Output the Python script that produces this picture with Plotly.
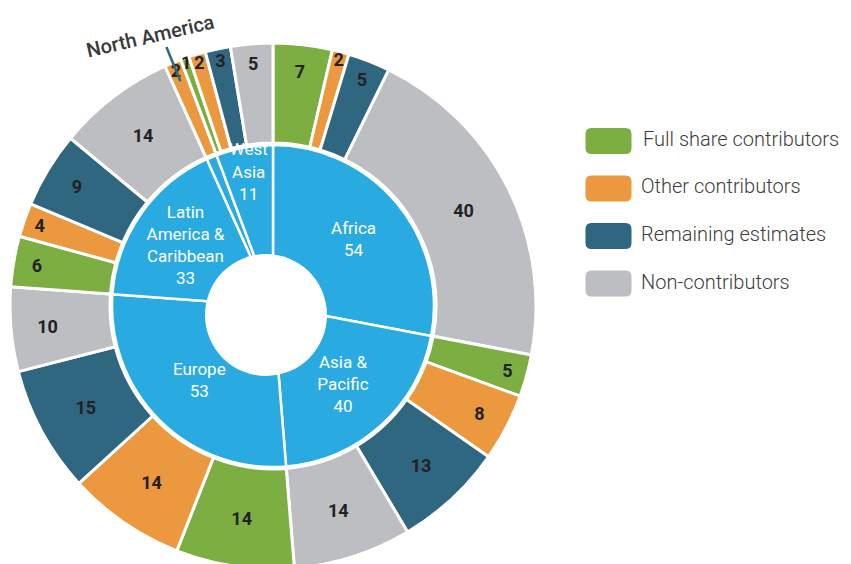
import math
import plotly.graph_objects as go

# ---------------- data ----------------
regions = ["Africa", "Asia & Pacific", "Europe", "Latin America & Caribbean", "North America", "West Asia"]
region_text = ["Africa", "Asia &<br>Pacific", "Europe", "Latin<br>America &<br>Caribbean", "", "West<br>Asia"]
region_totals = [54, 40, 53, 33, 2, 11]

categories = ["Full share contributors", "Other contributors", "Remaining estimates", "Non-contributors"]
cat_colors = ["#7CAE42", "#EB983E", "#2F6680", "#BDBEC2"]
full_share = [7, 5, 14, 6, 0, 1]
other_contrib = [2, 8, 14, 4, 2, 2]
remaining = [5, 13, 15, 9, 0, 3]
non_contrib = [40, 14, 10, 14, 0, 5]

callout_region = "North America"

# ---------------- layout geometry (window pixel coordinates) ----------------
W, H = 851, 564
OFF = 8  # page body margin
CX, CY = 273, 306
R_OUT = 263
R_IN = 161
HOLE_CX, HOLE_CY, HOLE_R = 266, 315, 61
BLUE = "#29ABE2"

def px2paper(x, y):
    return (x - OFF) / W, 1 - (y - OFF) / H

def domain(r):
    x0, y0 = px2paper(CX - r, CY + r)
    x1, y1 = px2paper(CX + r, CY - r)
    return dict(x=[max(0, x0), min(1, x1)], y=[max(0, y0), min(1, y1)])

# outer ring slices
series = [full_share, other_contrib, remaining, non_contrib]
o_labels, o_values, o_colors, o_text = [], [], [], []
for i, reg in enumerate(regions):
    for j, cat in enumerate(categories):
        v = series[j][i]
        if v > 0:
            o_labels.append(f"{reg} – {cat}")
            o_values.append(v)
            o_colors.append(cat_colors[j])
            o_text.append(str(v))

inner_text = [f"{t}<br>{v}" if t else "" for t, v in zip(region_text, region_totals)]

fig = go.Figure()
fig.add_trace(go.Pie(
    labels=o_labels, values=o_values, text=o_text, textinfo="text",
    sort=False, direction="clockwise", rotation=0,
    hole=(R_IN + 2) / R_OUT,
    marker=dict(colors=o_colors, line=dict(color="white", width=3)),
    textposition="inside", insidetextorientation="horizontal",
    textfont=dict(family="Roboto", size=18, color="#222222", weight="bold"),
    domain=domain(R_OUT), showlegend=False, hoverinfo="label+value",
))
fig.add_trace(go.Pie(
    labels=regions, values=region_totals, text=inner_text, textinfo="text",
    sort=False, direction="clockwise", rotation=0,
    hole=0.3,
    marker=dict(colors=[BLUE] * len(regions), line=dict(color="white", width=2.5)),
    textposition="inside", insidetextorientation="horizontal",
    textfont=dict(family="Roboto", size=16, color="white"),
    domain=domain(R_IN), showlegend=False, hoverinfo="label+value",
))

shapes = []
annotations = []

# central white hole (slightly offset, as in the original)
hx0, hy0 = px2paper(HOLE_CX - HOLE_R, HOLE_CY + HOLE_R)
hx1, hy1 = px2paper(HOLE_CX + HOLE_R, HOLE_CY - HOLE_R)
shapes.append(dict(type="circle", xref="paper", yref="paper", x0=hx0, y0=hy0, x1=hx1, y1=hy1,
                   fillcolor="white", line=dict(width=0), layer="above"))

# legend
w, h, r = 46, 26, 6
rr = (f"M {-w/2+r},{-h/2} L {w/2-r},{-h/2} Q {w/2},{-h/2} {w/2},{-h/2+r} "
      f"L {w/2},{h/2-r} Q {w/2},{h/2} {w/2-r},{h/2} L {-w/2+r},{h/2} "
      f"Q {-w/2},{h/2} {-w/2},{h/2-r} L {-w/2},{-h/2+r} Q {-w/2},{-h/2} {-w/2+r},{-h/2} Z")
for k, (cat, col) in enumerate(zip(categories, cat_colors)):
    ly = 141 + 47.5 * k
    ax, ay = px2paper(608.5, ly)
    shapes.append(dict(type="path", xref="paper", yref="paper", xsizemode="pixel", ysizemode="pixel",
                       xanchor=ax, yanchor=ay, path=rr, fillcolor=col, line=dict(width=0)))
    tx, ty = px2paper(639 if k else 641, ly - 2)
    annotations.append(dict(x=tx, y=ty, xref="paper", yref="paper", xanchor="left", yanchor="middle",
                            text=cat, showarrow=False,
                            font=dict(family="Roboto", size=20, color="#3d3d3d", weight=300)))

# North America callout, pointing at the middle of its slice
idx = regions.index(callout_region)
mid = (sum(region_totals[:idx]) + region_totals[idx] / 2) / sum(region_totals) * 2 * math.pi
def polar(rad):
    return CX + rad * math.sin(mid), CY - rad * math.cos(mid)
p0 = px2paper(*polar(280))
p1 = px2paper(*polar(243))
shapes.append(dict(type="line", xref="paper", yref="paper", x0=p0[0], y0=p0[1], x1=p1[0], y1=p1[1],
                   line=dict(color="#2F6680", width=2.5)))
tx, ty = px2paper(150, 36)
annotations.append(dict(x=tx, y=ty, xref="paper", yref="paper", xanchor="center", yanchor="middle",
                        text=callout_region, textangle=-13, showarrow=False,
                        font=dict(family="Roboto", size=20, color="#3a3a3a", weight=500)))

fig.update_layout(
    width=W, height=H, margin=dict(l=0, r=0, t=0, b=0),
    paper_bgcolor="white", plot_bgcolor="white",
    shapes=shapes, annotations=annotations,
    uniformtext=dict(minsize=17, mode="show"),
    font=dict(family="Roboto"),
)

fig.write_html("out.html")
